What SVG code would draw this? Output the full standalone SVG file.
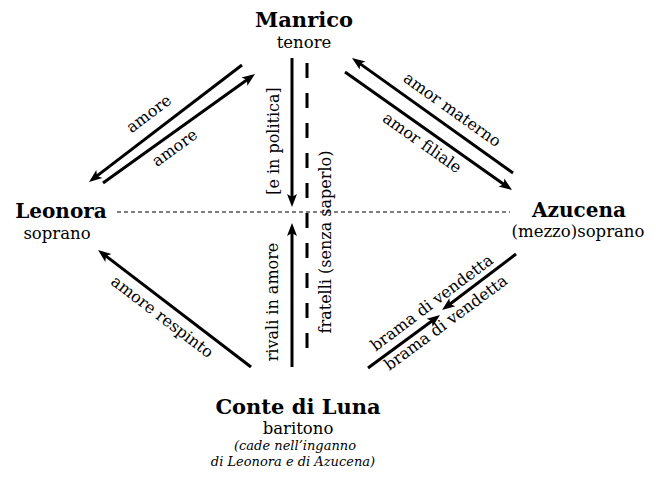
<svg xmlns="http://www.w3.org/2000/svg" width="656" height="486" viewBox="0 0 656 486">
<defs>
<marker id="ah" markerUnits="userSpaceOnUse" markerWidth="14" markerHeight="11" refX="5" refY="5" orient="auto" viewBox="0 0 14 10" overflow="visible">
<path d="M0,0 L13,5 L0,10 L3,5 z" fill="#000"/>
</marker>
<style>
.t{font-family:"DejaVu Serif","Liberation Serif",serif;fill:#000}
.title{font-size:21px;font-weight:bold;text-anchor:middle}
.sub{font-size:16.5px;text-anchor:middle}
.note{font-size:13px;font-style:italic;text-anchor:middle}
.lab{font-size:16px;text-anchor:middle}
.arr{stroke:#000;stroke-width:3;fill:none;marker-end:url(#ah)}
.dash{stroke:#000;stroke-width:3;fill:none;stroke-dasharray:15 15}
.hdash{stroke:#000;stroke-width:1.2;fill:none;stroke-dasharray:4 3}
</style>
</defs>
<rect width="656" height="486" fill="#fff"/>
<g id="connectors">
<line class="hdash" x1="117" y1="212" x2="510" y2="212"/>
<line class="dash" x1="307" y1="63" x2="307" y2="350"/>
<line class="arr" x1="292" y1="58" x2="292" y2="199"/>
<line class="arr" x1="292" y1="367" x2="292" y2="231"/>
<line class="arr" x1="242" y1="65" x2="95.4" y2="177.1"/>
<line class="arr" x1="103" y1="183" x2="248.5" y2="78.7"/>
<line class="arr" x1="513" y1="173" x2="358.5" y2="62.6"/>
<line class="arr" x1="345" y1="72" x2="505.5" y2="185.4"/>
<line class="arr" x1="251" y1="367" x2="104.4" y2="254.9"/>
<line class="arr" x1="516" y1="254" x2="448.4" y2="305.2"/>
<line class="arr" x1="368" y1="368" x2="433.6" y2="319.7"/>
<text class="t lab" transform="translate(149,114) rotate(-37)" y="5">amore</text>
<text class="t lab" transform="translate(175,148) rotate(-36)" y="5">amore</text>
<text class="t lab" transform="translate(452,110) rotate(35.5)" y="5">amor materno</text>
<text class="t lab" transform="translate(422,143) rotate(35.2)" y="5">amor filiale</text>
<text class="t lab" transform="translate(162,317) rotate(37.4)" y="5">amore respinto</text>
<text class="t lab" transform="translate(432,303) rotate(-37)" y="5">brama di vendetta</text>
<text class="t lab" transform="translate(446,323) rotate(-36.4)" y="5">brama di vendetta</text>
<text class="t lab" transform="translate(279,141) rotate(-90)">[e in politica]</text>
<text class="t lab" transform="translate(278,302) rotate(-90)">rivali in amore</text>
<text class="t lab" transform="translate(331,242) rotate(-90)">fratelli (senza saperlo)</text>
</g>
<g id="manrico">
<text class="t title" x="304" y="27">Manrico</text>
<text class="t sub" x="304" y="48">tenore</text>
</g>
<g id="leonora">
<text class="t title" x="61" y="218" style="font-size:20px">Leonora</text>
<text class="t sub" x="57" y="239">soprano</text>
</g>
<g id="azucena">
<text class="t title" x="579" y="217" style="font-size:20px">Azucena</text>
<text class="t sub" x="578" y="237">(mezzo)soprano</text>
</g>
<g id="conte">
<text class="t title" x="298" y="414">Conte di Luna</text>
<text class="t sub" x="298" y="434">baritono</text>
<text class="t note" x="295" y="450">(cade nell’inganno</text>
<text class="t note" x="293" y="466">di Leonora e di Azucena)</text>
</g>
</svg>
